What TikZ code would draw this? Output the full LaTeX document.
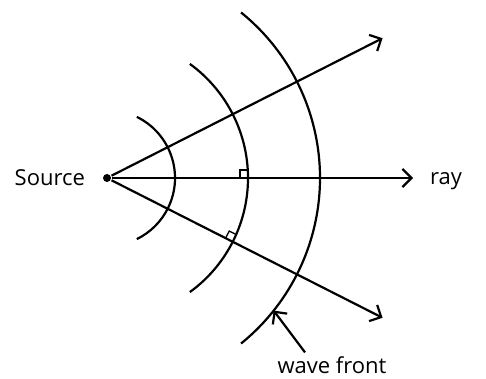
\documentclass[tikz,border=0pt]{standalone}
\usepackage{fontspec}
\setmainfont{Open Sans}
\usetikzlibrary{arrows.meta}

\tikzset{
  ray/.style={-{Straight Barb[length=9pt,width=18pt]}},
  lbl/.style={font=\fontsize{22}{26}\selectfont,inner sep=0pt}
}

\begin{document}
\begin{tikzpicture}[x=1pt,y=1pt,line width=2.2pt]
  \useasboundingbox (-107,-201) rectangle (379,178);
  \node[circle,fill,inner sep=0pt,minimum size=8pt] (src) at (0,0) {};
  \node[lbl,anchor=east] (srclbl) at (-21,0) {Source};
  \coordinate (up) at (26.9:309);
  \coordinate (mid) at (306,0);
  \coordinate (dn) at (-26.9:309);
  \foreach \e in {up,mid,dn}
    \draw[ray] (src) -- (\e);
  \node[lbl,anchor=west] (raylbl) at (322,-3) {ray};
  % wave fronts
  \draw (64:68) arc[start angle=64,end angle=-64,radius=68];
  \draw (54:141) arc[start angle=54,end angle=-54,radius=141];
  \draw (51:213) arc[start angle=51,end angle=-51,radius=213];
  % right angles
  \foreach \a in {0,-26.9}
    \draw[line width=1.3pt,rotate=\a] (133,0) -- (133,8) -- (141,8);
  \coordinate (wf) at (-38.5:213);
  \node[lbl] (wflbl) at (225,-187) {wave front};
  \draw[ray] ([xshift=-27pt,yshift=3pt]wflbl.north) -- (wf);
\end{tikzpicture}
\end{document}
